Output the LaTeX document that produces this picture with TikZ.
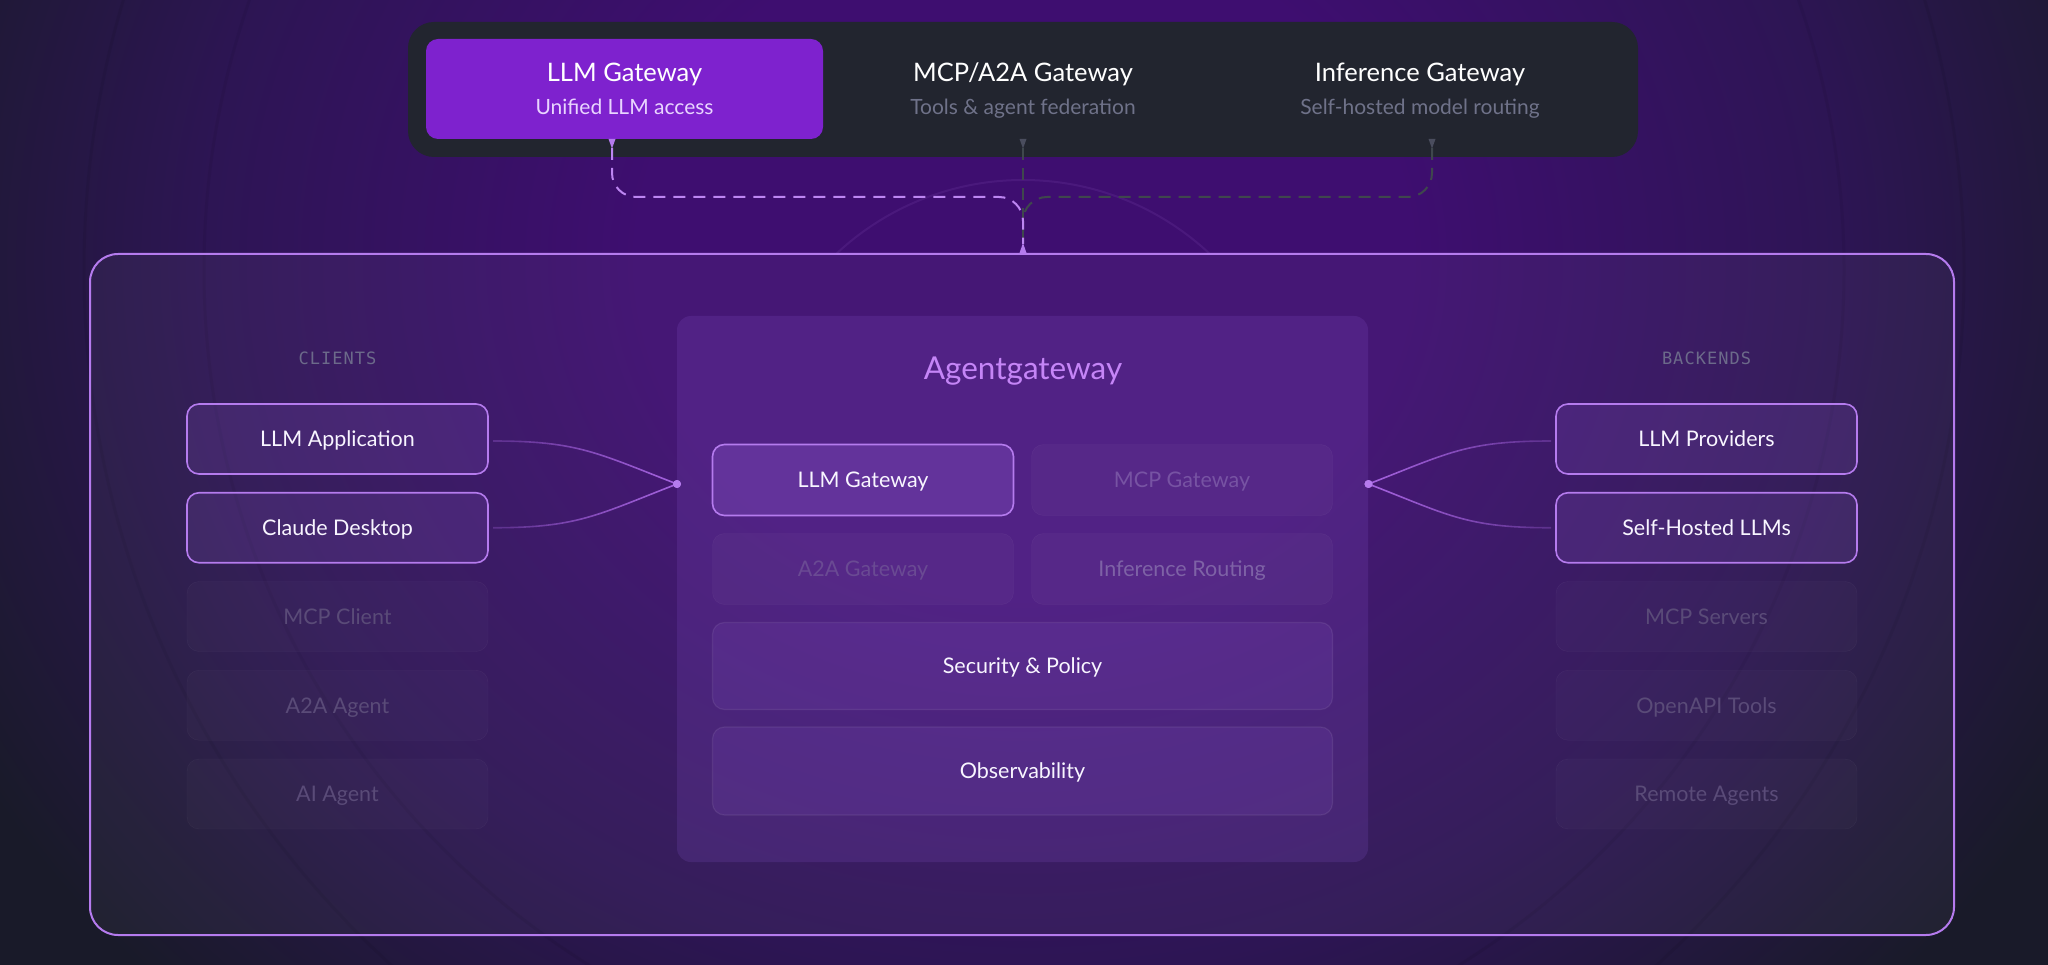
\documentclass[tikz,border=0pt]{standalone}
\usepackage{fontspec}
\setmainfont{Lato}
\newfontfamily\monof{DejaVu Sans Mono}[LetterSpace=6]
\usetikzlibrary{calc,fadings}
\definecolor{bgc}{HTML}{191A29}
\definecolor{glowc}{HTML}{3E0E70}
\definecolor{glowm}{HTML}{2D1554}
\definecolor{topc}{HTML}{22252F}
\definecolor{hlc}{HTML}{7E22CE}
\definecolor{hlsub}{HTML}{E9D5FF}
\definecolor{lav}{HTML}{B57BEE}
\definecolor{dashp}{HTML}{BD86F2}
\definecolor{dashg}{HTML}{3F474D}
\definecolor{arrg}{HTML}{4A4D5E}
\definecolor{subg}{HTML}{6F7289}
\definecolor{lblc}{HTML}{6C6A8A}
\definecolor{agc}{HTML}{C585F7}
\definecolor{actf}{HTML}{9A66DE}
\definecolor{pnl}{HTML}{8A55D0}
\definecolor{wtxt}{HTML}{F8F5FF}
\definecolor{offt}{HTML}{5A4B78}
\definecolor{offa}{HTML}{7753A3}
\definecolor{offb}{HTML}{6A4A93}
\definecolor{offc}{HTML}{7E62A6}
\definecolor{conc}{HTML}{A664E0}
\pgfdeclareradialshading{glow}{\pgfpoint{0bp}{0bp}}{color(0bp)=(glowc); color(8bp)=(glowc); color(17bp)=(glowm); color(25bp)=(bgc); color(50bp)=(bgc)}
\tikzfading[name=fadeR, left color=transparent!70, right color=transparent!0]
\tikzfading[name=fadeL, left color=transparent!0, right color=transparent!70]
\tikzset{
  box/.style={rounded corners=12pt, minimum width=301pt, minimum height=70pt, inner sep=0pt, outer sep=0pt, text height=15.5pt, text depth=0pt, font=\fontsize{21.5}{25}\selectfont},
  onbox/.style={box, draw=lav, line width=1.6pt, fill=actf, fill opacity=0.15, text opacity=1, text=wtxt},
  offbox/.style={box, draw=white, draw opacity=0.05, fill=white, fill opacity=0.02, text opacity=1, text=offt},
  ibox/.style={rounded corners=12pt, minimum width=301pt, minimum height=71pt, inner sep=0pt, outer sep=0pt, text height=15.5pt, text depth=0pt, font=\fontsize{21.5}{25}\selectfont},
  ion/.style={ibox, draw=lav, line width=1.6pt, fill=actf, fill opacity=0.25, text opacity=1, text=wtxt},
  ioff/.style={ibox, draw=white, draw opacity=0.05, fill=white, fill opacity=0.03, text opacity=1},
  wide/.style={ibox, minimum width=620pt, draw=white, draw opacity=0.08, line width=1.2pt, fill=actf, fill opacity=0.12, text opacity=1, text=wtxt},
  ttl/.style={inner sep=0pt, anchor=base, font=\fontsize{25.5}{29}\selectfont},
  sub/.style={inner sep=0pt, anchor=base, font=\fontsize{21}{25}\selectfont},
  lbl/.style={inner sep=0pt, anchor=base, text=lblc, font=\monof\fontsize{17}{20}\selectfont},
  dot/.style={circle, fill=lav, minimum size=8pt, inner sep=0pt, outer sep=0pt},
  conn/.style={draw=conc, line width=1.6pt},
  dashpur/.style={draw=dashp, line width=2pt, dash pattern=on 12pt off 8pt},
  dashgr/.style={draw=dashg, line width=2pt, dash pattern=on 12pt off 8pt},
}
\begin{document}
\begin{tikzpicture}[x=1pt,y=-1pt]
\useasboundingbox (0,0) rectangle (2048,965);
\clip (0,0) rectangle (2048,965);
% background
\fill[bgc] (0,0) rectangle (2048,965);
\shade[shading=glow] (1024,260) ellipse [x radius=1200, y radius=1050];
\foreach \r in {820,940} \draw[black, opacity=0.06, line width=3pt] (1024,270) circle [radius=\r];
\begin{scope}
\clip (0,0) rectangle (2048,254);
\draw[lav, opacity=0.10, line width=2pt] (1023,453) circle [radius=273];
\end{scope}

% top bar
\node[fill=topc, rounded corners=26pt, minimum width=1230pt, minimum height=135pt, inner sep=0pt, outer sep=0pt] (bar) at (1023,89.5) {};
\node[fill=hlc, rounded corners=12pt, minimum width=397pt, minimum height=100pt, inner sep=0pt, outer sep=0pt] (hl) at (624.5,89) {};
\node[ttl, text=white] (t1) at (624.5,82) {LLM Gateway};
\node[sub, text=hlsub] (s1) at (624.5,114.5) {Unified LLM access};
\node[ttl, text=white] (t2) at (1023,82) {MCP/A2A Gateway};
\node[sub, text=subg] (s2) at (1023,114.5) {Tools \& agent federation};
\node[ttl, text=white] (t3) at (1420,82) {Inference Gateway};
\node[sub, text=subg] (s3) at (1420,114.5) {Self-hosted model routing};

% outer box
\node[draw=lav, line width=2pt, fill=white, fill opacity=0.04, rounded corners=28pt, minimum width=1864pt, minimum height=681pt, inner sep=0pt, outer sep=0pt] (outer) at (1022,594.5) {};

% dashed connectors
\coordinate (a1) at (612,148);
\coordinate (a2) at (1023,148);
\coordinate (a3) at (1432,148);
\coordinate (j1) at (612,197);
\coordinate (j3) at (1432,197);
\coordinate (jm) at (1023,197);
\coordinate (bt) at (1023,244);
\draw[dashgr] (a2) -- (1023,252);
\draw[dashgr, rounded corners=24pt] (a3) -- (j3) -- (jm) -- (bt);
\draw[dashpur, rounded corners=24pt] (a1) -- (j1) -- (jm) -- (bt);
\fill[lav] (608.5,139) -- (615.5,139) -- (612,148.5) -- cycle;
\fill[arrg] (1019.5,139) -- (1026.5,139) -- (1023,148.5) -- cycle;
\fill[arrg] (1428.5,139) -- (1435.5,139) -- (1432,148.5) -- cycle;
\fill[lav] (1019.5,253) -- (1026.5,253) -- (1023,243) -- cycle;

% labels
\node[lbl] (cl) at (337.5,365) {CLIENTS};
\node[lbl] (bk) at (1706.5,365) {BACKENDS};

% clients
\node[onbox] (c1) at (337.5,439) {LLM Application};
\node[onbox] (c2) at (337.5,527.75) {Claude Desktop};
\node[offbox] (c3) at (337.5,616.5) {MCP Client};
\node[offbox] (c4) at (337.5,705.25) {A2A Agent};
\node[offbox] (c5) at (337.5,794) {AI Agent};

% backends
\node[onbox] (b1) at (1706.5,439) {LLM Providers};
\node[onbox] (b2) at (1706.5,527.75) {Self-Hosted LLMs};
\node[offbox] (b3) at (1706.5,616.5) {MCP Servers};
\node[offbox] (b4) at (1706.5,705.25) {OpenAPI Tools};
\node[offbox] (b5) at (1706.5,794) {Remote Agents};

% center panel
\node[fill=pnl, fill opacity=0.18, rounded corners=14pt, minimum width=691pt, minimum height=546pt, inner sep=0pt, outer sep=0pt] (panel) at (1022.5,589) {};
\node[inner sep=0pt, anchor=base, text=agc, font=\fontsize{31.5}{36}\selectfont] (ag) at (1023,380) {Agentgateway};
\node[ion] (g1) at (863,480) {LLM Gateway};
\node[ioff, text=offa] (g2) at (1182,480) {MCP Gateway};
\node[ioff, text=offb] (g3) at (863,569) {A2A Gateway};
\node[ioff, text=offc] (g4) at (1182,569) {Inference Routing};
\node[wide, minimum height=87pt] (sp) at (1022.5,666) {Security \& Policy};
\node[wide, minimum height=88pt] (ob) at (1022.5,771) {Observability};

% side connectors
\node[dot] (ld) at (677,484) {};
\node[dot] (rd) at (1368.5,484) {};
\coordinate (c1o) at ($(c1.east)+(5,2)$);
\coordinate (c2o) at ($(c2.east)+(5,0)$);
\coordinate (b1o) at ($(b1.west)+(-5,2)$);
\coordinate (b2o) at ($(b2.west)+(-5,0)$);
\draw[conn, path fading=fadeR] (c1o) .. controls +(85,0) and +(-80,-31) .. (ld.center);
\draw[conn, path fading=fadeR] (c2o) .. controls +(85,0) and +(-80,31) .. (ld.center);
\draw[conn, path fading=fadeL] (rd.center) .. controls +(80,-31) and +(-85,0) .. (b1o);
\draw[conn, path fading=fadeL] (rd.center) .. controls +(80,31) and +(-85,0) .. (b2o);
\node[dot] at (ld) {};
\node[dot] at (rd) {};
\end{tikzpicture}
\end{document}
